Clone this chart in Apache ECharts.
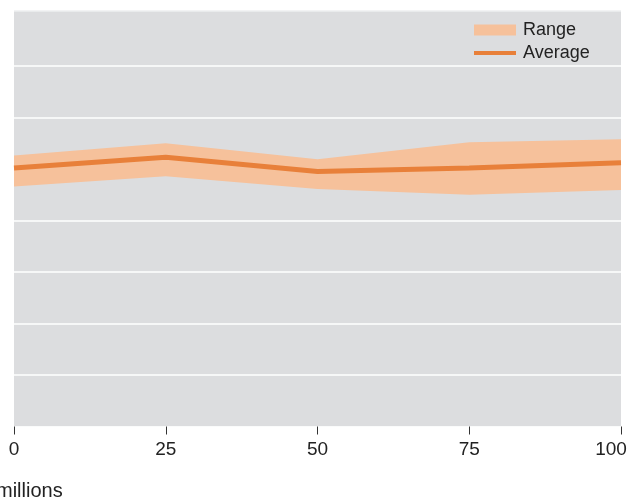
<!DOCTYPE html>
<html><head><meta charset="utf-8">
<script src="https://cdn.jsdelivr.net/npm/echarts@6/dist/echarts.min.js"></script>
<style>html,body{margin:0;padding:0;background:#fff}#c{width:641px;height:502px}</style>
</head><body><div id="c"></div>
<script>
var xValues = ['0', '25', '50', '75', '100'];
var rangeLow = [4.66, 4.86, 4.61, 4.50, 4.59];
var rangeHigh = [5.26, 5.50, 5.19, 5.52, 5.58];
var average = [5.02, 5.23, 4.95, 5.02, 5.12];
var unitLabel = 'millions';

var FONT = '"Liberation Sans", Arial, Helvetica, sans-serif';
var diffData = rangeHigh.map(function(h,i){return +(h-rangeLow[i]).toFixed(4);});
var BG = '#dcdddf';
var gridColors = ['#ffffff','#ffffff','#ffffff','#ffffff','#ffffff','#ffffff','#ffffff','#ffffff',BG,'#eeeff0'];

var chart = echarts.init(document.getElementById('c'));
chart.setOption({
  animation:false,
  grid:{left:14,right:20,top:11,bottom:75.5,show:true,backgroundColor:BG,borderWidth:0},
  legend:[
    {data:[{name:'Range',icon:'rect',itemStyle:{color:'#f6c19b',opacity:1}}],left:474,top:21,padding:0,itemWidth:42,itemHeight:11,
     textStyle:{fontFamily:FONT,fontSize:18,color:'#222',padding:[0,0,0,2]},selectedMode:false},
    {data:[{name:'Average',icon:'rect',itemStyle:{color:'#e8803a',opacity:1}}],left:474,top:44,padding:0,itemWidth:42,itemHeight:4,
     textStyle:{fontFamily:FONT,fontSize:18,color:'#222',padding:[0,0,0,2]},selectedMode:false}
  ],
  xAxis:{type:'category',data:xValues,boundaryGap:false,
    axisLine:{show:false},
    axisTick:{show:true,length:8,alignWithLabel:true,lineStyle:{color:'#333',width:1}},
    splitLine:{show:false},
    axisLabel:{margin:14,fontFamily:FONT,fontSize:19,color:'#222',interval:0,
      formatter:function(v){return v==='100'?'{m|100}':v;},
      rich:{m:{fontFamily:FONT,fontSize:19,color:'#222',padding:[0,20,0,0]}}}
  },
  yAxis:{type:'value',min:0,max:8.068,interval:1,
    axisLine:{show:false},axisTick:{show:false},axisLabel:{show:false},
    splitLine:{show:true,lineStyle:{color:gridColors,width:1.5}}},
  graphic:[{type:'text',left:-4,top:481,style:{text:unitLabel,fontFamily:FONT,fontSize:20,fill:'#222'}}],
  series:[
    {name:'low',type:'line',data:rangeLow,stack:'band',symbol:'none',lineStyle:{opacity:0},silent:true},
    {name:'Range',type:'line',data:diffData,stack:'band',symbol:'none',lineStyle:{opacity:0},
     itemStyle:{color:'#f6c19b'},areaStyle:{color:'#f6c19b',opacity:1},silent:true},
    {name:'Average',type:'line',data:average,symbol:'none',
     itemStyle:{color:'#e8803a'},lineStyle:{color:'#e8803a',width:5}}
  ]
});
</script></body></html>
